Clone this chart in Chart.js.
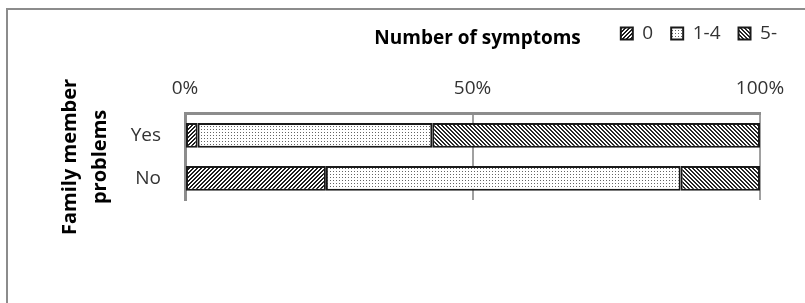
<!DOCTYPE html>
<html>
<head>
<meta charset="utf-8">
<script src="https://cdn.jsdelivr.net/npm/chart.js@4.4.0/dist/chart.umd.min.js"></script>
<style>
  html, body { margin: 0; padding: 0; background: #fff; }
  #wrap { width: 805px; height: 303px; position: relative; }
</style>
</head>
<body>
<div id="wrap"><canvas id="c" width="805" height="303"></canvas></div>
<script>
// data (share of respondents, %)
const categories = ['Yes', 'No'];
const seriesNames = ['0', '1-4', '5-'];
const zeroSymptoms = [2.2, 24.5];
const fewSymptoms = [40.8, 61.7];
const manySymptoms = [57.0, 13.8];
const xTicks = [0, 50, 100];

// small pattern tiles, like the old excel fills
function makePattern(kind) {
    const n = kind === 'dots' ? 3 : 4;
    const c = document.createElement('canvas');
    c.width = n; c.height = n;
    const g = c.getContext('2d');
    const img = g.createImageData(n, n);
    for (let y = 0; y < n; y++) {
        for (let x = 0; x < n; x++) {
            let v = 255;
            if (kind === 'fwd' && (x + y) % 4 < 2) v = 30;
            if (kind === 'back' && ((x - y + 8) % 4) < 2) v = 40;
            if (kind === 'dots' && x === 0 && y === 0) v = 100;
            const i = (y * n + x) * 4;
            img.data[i] = img.data[i + 1] = img.data[i + 2] = v;
            img.data[i + 3] = 255;
        }
    }
    g.putImageData(img, 0, 0);
    return g.createPattern(c, 'repeat');
}

const ctx = document.getElementById('c').getContext('2d');

// outer frame + legend heading
const framePlugin = {
    id: 'frame',
    beforeDraw(chart) {
        const g = chart.ctx;
        g.save();
        g.strokeStyle = '#8c8c8c';
        g.lineWidth = 2;
        g.strokeRect(7, 9, 900, 400);
        g.restore();
    },
    afterDraw(chart) {
        const boxes = chart.legend.legendHitBoxes;
        if (!boxes || !boxes.length) return;
        const g = chart.ctx;
        g.save();
        g.font = 'bold 19px "Open Sans"';
        g.fillStyle = '#000';
        g.textAlign = 'right';
        g.textBaseline = 'middle';
        g.fillText('Number of symptoms', boxes[0].left - 40, boxes[0].top + boxes[0].height / 2 + 5);
        g.restore();
    }
};

new Chart(ctx, {
    type: 'bar',
    data: {
        labels: categories,
        datasets: [
            { label: seriesNames[0], data: zeroSymptoms, backgroundColor: makePattern('fwd') },
            { label: seriesNames[1], data: fewSymptoms, backgroundColor: makePattern('dots') },
            { label: seriesNames[2], data: manySymptoms, backgroundColor: makePattern('back') }
        ].map(d => Object.assign(d, {
            borderColor: '#1a1a1a',
            borderWidth: 2,
            borderSkipped: false,
            categoryPercentage: 0.8,
            barPercentage: 0.72
        }))
    },
    options: {
        indexAxis: 'y',
        responsive: false,
        animation: false,
        layout: { padding: { top: 6, right: 10, bottom: 103, left: 45 } },
        plugins: {
            legend: {
                position: 'top',
                align: 'end',
                labels: {
                    boxWidth: 12,
                    boxHeight: 12,
                    padding: 18,
                    color: '#333',
                    font: { family: 'Open Sans', size: 19 }
                }
            },
            tooltip: { enabled: false }
        },
        scales: {
            x: {
                position: 'top',
                stacked: true,
                min: 0,
                max: 100,
                afterBuildTicks: s => { s.ticks = xTicks.map(v => ({ value: v })); },
                // extra room between the legend and the % labels
                afterFit: s => { s.height += 10; },
                ticks: {
                    callback: v => v + '%',
                    color: '#333',
                    padding: 14,
                    font: { family: 'Open Sans', size: 19 }
                },
                grid: { color: '#a0a0a0', lineWidth: 2, drawTicks: false },
                border: { color: '#8c8c8c', width: 3 }
            },
            y: {
                stacked: true,
                afterFit: s => { s.width = 140; },
                ticks: {
                    color: '#333',
                    padding: 16,
                    font: { family: 'Open Sans', size: 19 }
                },
                grid: { display: false },
                border: { color: '#8c8c8c', width: 3 },
                title: {
                    display: true,
                    text: ['Family member', 'problems'],
                    color: '#000',
                    padding: { top: 10, bottom: 0 },
                    font: { family: 'Open Sans', size: 20, weight: 'bold', lineHeight: 1.5 }
                }
            },
            // keeps the plot clear of the legend's right edge
            spacer: {
                type: 'linear',
                axis: 'y',
                position: 'right',
                display: true,
                afterFit: s => { s.width = 35; },
                ticks: { display: false },
                grid: { display: false },
                border: { display: false }
            }
        }
    },
    plugins: [framePlugin]
});
</script>
</body>
</html>
